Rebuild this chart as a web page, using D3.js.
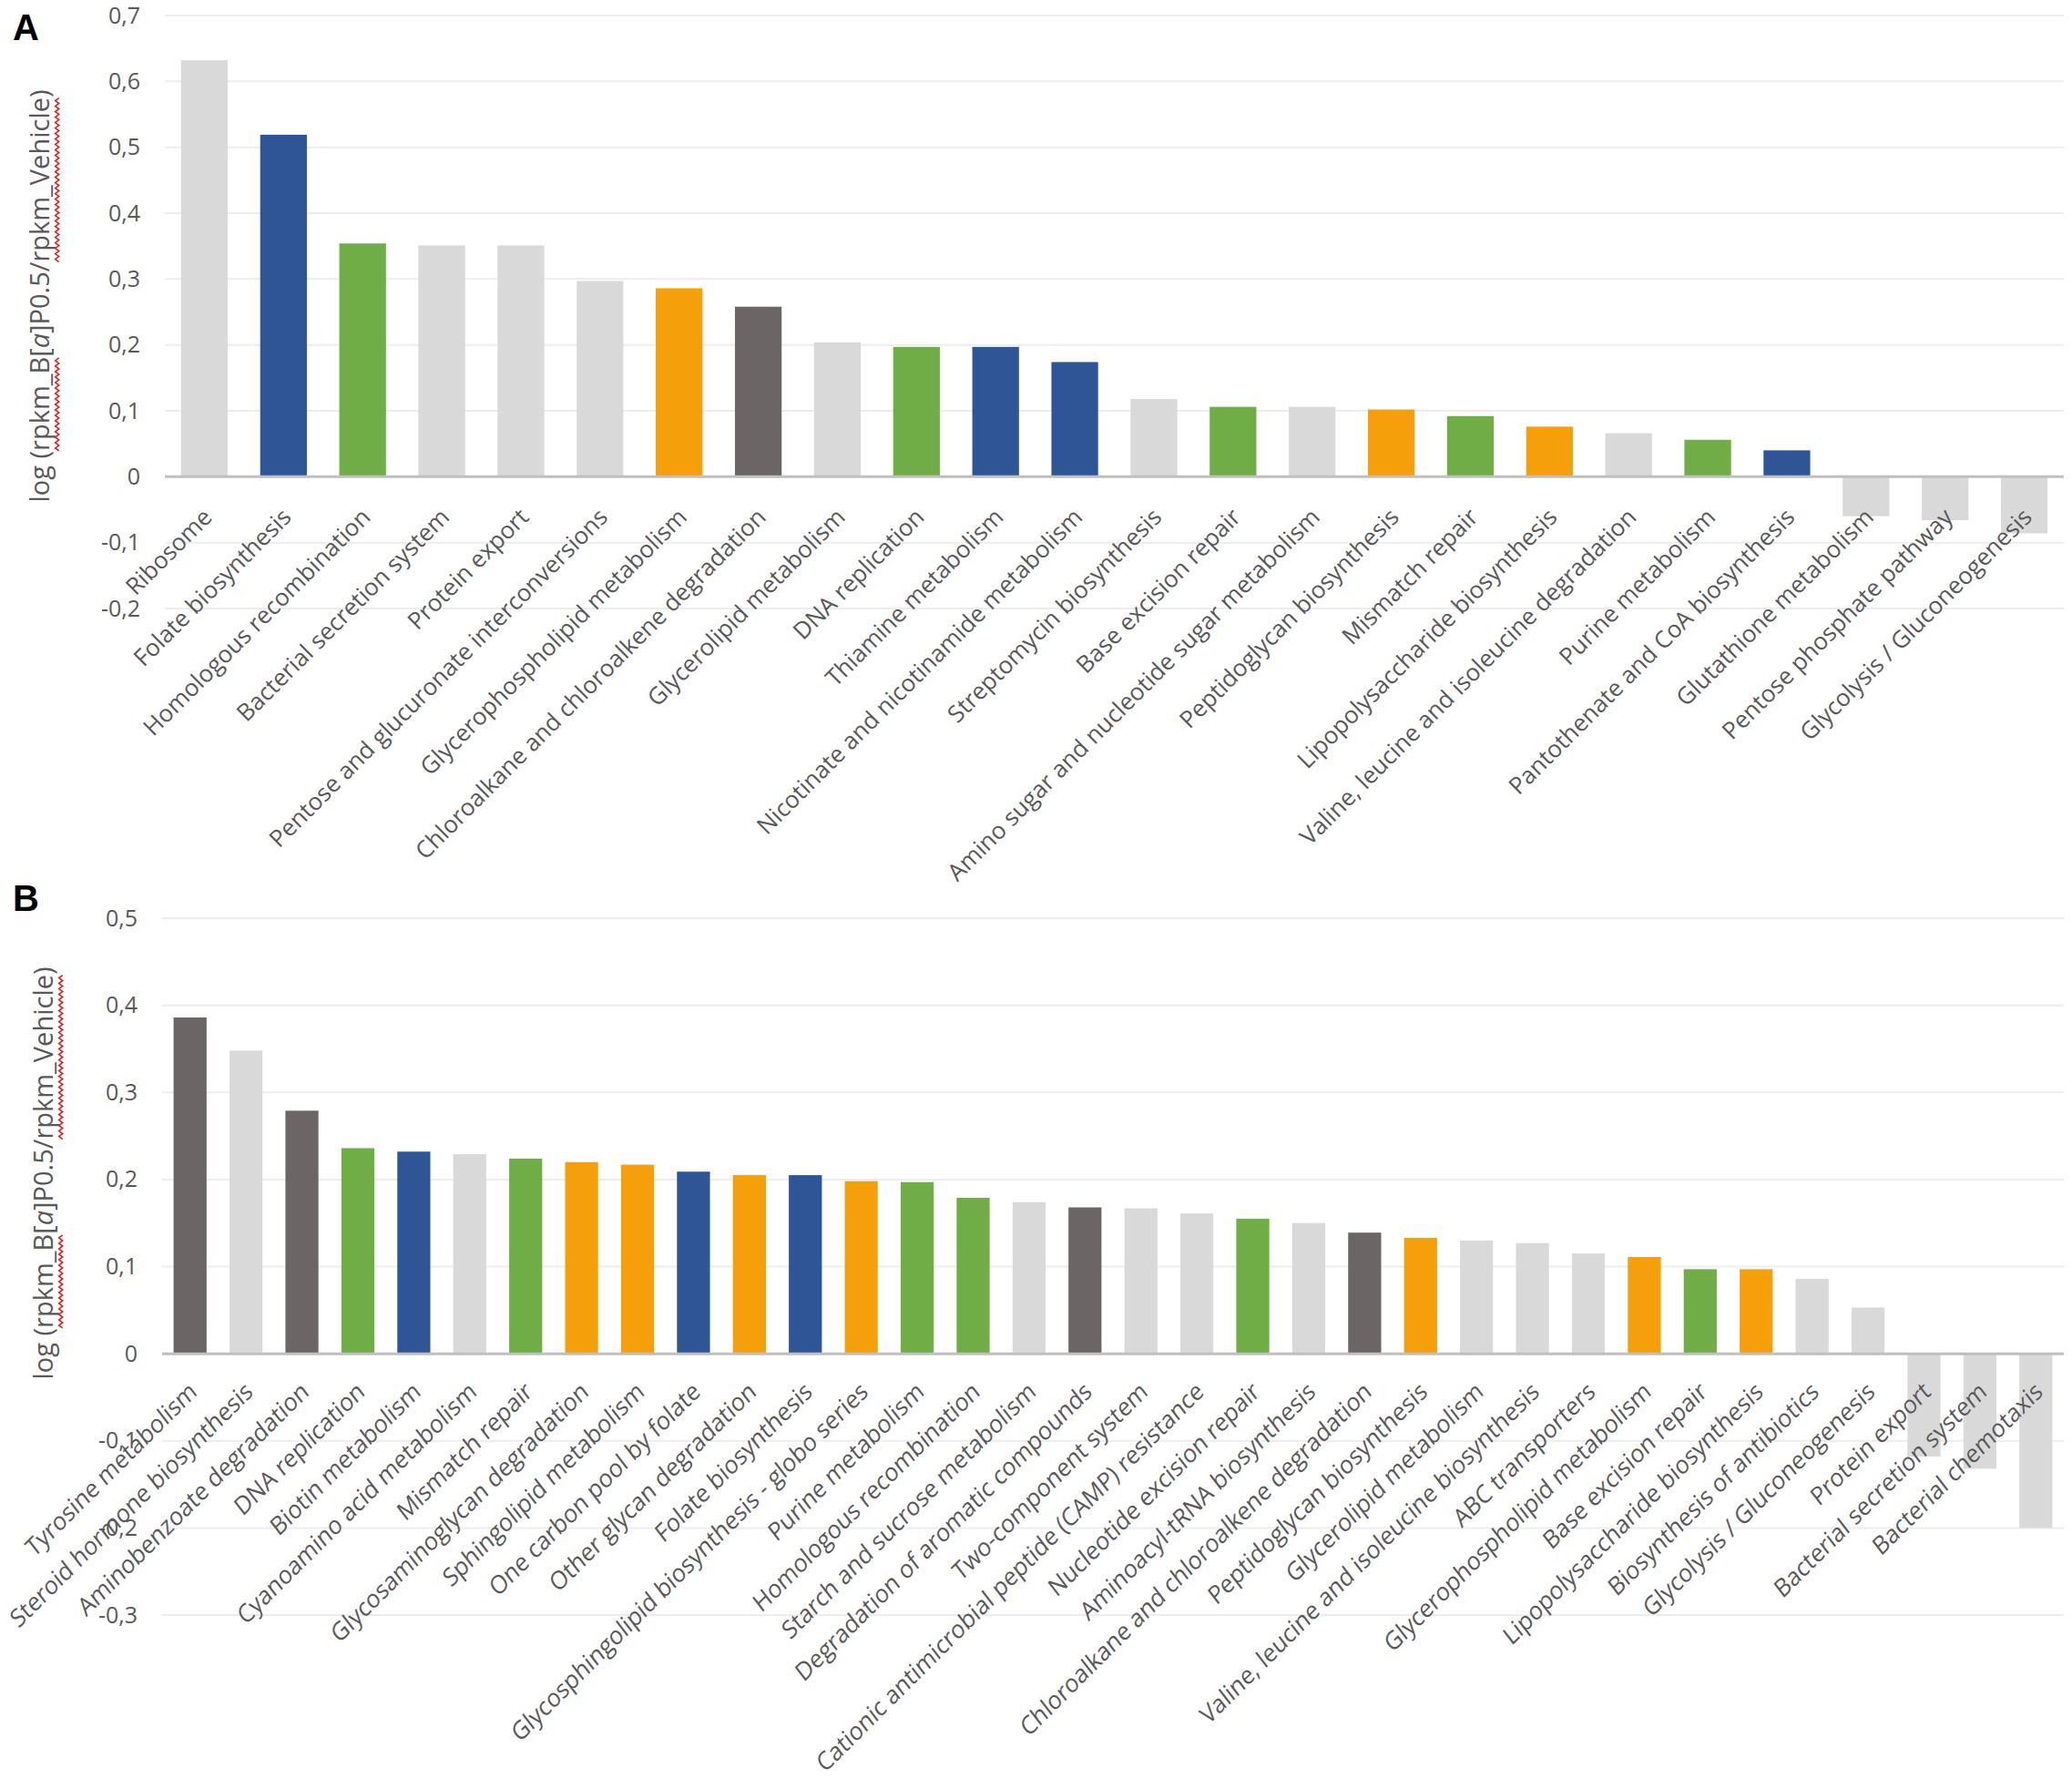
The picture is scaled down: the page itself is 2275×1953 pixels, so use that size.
<!DOCTYPE html>
<html><head><meta charset="utf-8">
<script src="https://cdn.jsdelivr.net/npm/d3@7"></script>
<style>
html,body{margin:0;padding:0;background:#fff;}
text{font-family:"Open Sans",sans-serif;fill:#595959;}
</style></head>
<body>
<svg id="chart" width="2275" height="1953"></svg>
<script>
// ---------- Panel A data ----------
const categoriesA = ["Ribosome","Folate biosynthesis","Homologous recombination","Bacterial secretion system","Protein export","Pentose and glucuronate interconversions","Glycerophospholipid metabolism","Chloroalkane and chloroalkene degradation","Glycerolipid metabolism","DNA replication","Thiamine metabolism","Nicotinate and nicotinamide metabolism","Streptomycin biosynthesis","Base excision repair","Amino sugar and nucleotide sugar metabolism","Peptidoglycan biosynthesis","Mismatch repair","Lipopolysaccharide biosynthesis","Valine, leucine and isoleucine degradation","Purine metabolism","Pantothenate and CoA biosynthesis","Glutathione metabolism","Pentose phosphate pathway","Glycolysis / Gluconeogenesis"];
const valuesA = [0.632,0.519,0.354,0.351,0.351,0.297,0.286,0.258,0.204,0.197,0.197,0.174,0.118,0.106,0.106,0.102,0.092,0.076,0.066,0.056,0.040,-0.060,-0.066,-0.086];
const groupsA = ["other","blue","green","other","other","other","orange","dark","other","green","blue","blue","other","green","other","orange","green","orange","other","green","blue","other","other","other"];
const ticksA = [-0.2,-0.1,0,0.1,0.2,0.3,0.4,0.5,0.6,0.7];

// ---------- Panel B data ----------
const categoriesB = ["Tyrosine metabolism","Steroid hormone biosynthesis","Aminobenzoate degradation","DNA replication","Biotin metabolism","Cyanoamino acid metabolism","Mismatch repair","Glycosaminoglycan degradation","Sphingolipid metabolism","One carbon pool by folate","Other glycan degradation","Folate biosynthesis","Glycosphingolipid biosynthesis - globo series","Purine metabolism","Homologous recombination","Starch and sucrose metabolism","Degradation of aromatic compounds","Two-component system","Cationic antimicrobial peptide (CAMP) resistance","Nucleotide excision repair","Aminoacyl-tRNA biosynthesis","Chloroalkane and chloroalkene degradation","Peptidoglycan biosynthesis","Glycerolipid metabolism","Valine, leucine and isoleucine biosynthesis","ABC transporters","Glycerophospholipid metabolism","Base excision repair","Lipopolysaccharide biosynthesis","Biosynthesis of antibiotics","Glycolysis / Gluconeogenesis","Protein export","Bacterial secretion system","Bacterial chemotaxis"];
const valuesB = [0.386,0.348,0.279,0.236,0.232,0.229,0.224,0.220,0.217,0.209,0.205,0.205,0.198,0.197,0.179,0.174,0.168,0.167,0.161,0.155,0.150,0.139,0.133,0.130,0.127,0.115,0.111,0.097,0.097,0.086,0.053,-0.118,-0.132,-0.200];
const groupsB = ["dark","other","dark","green","blue","other","green","orange","orange","blue","orange","blue","orange","green","green","other","dark","other","other","green","other","dark","orange","other","other","other","orange","green","orange","other","other","other","other","other"];
const ticksB = [-0.3,-0.2,-0.1,0,0.1,0.2,0.3,0.4,0.5];

const groupNames = ["other","blue","green","orange","dark"];
const groupColors = ["#D9D9D9","#2F5597","#70AD47","#F59F0B","#6B6565"];

const yTitle = ["log (rpkm_B[", "a", "]P0.5/rpkm_Vehicle)"];

const svg = d3.select("#chart");
const color = d3.scaleOrdinal().domain(groupNames).range(groupColors);
const fmt = v => v === 0 ? "0" : d3.format(".1f")(v).replace(".", ",").replace("\u2212","-");

function panel(opt) {
  const g = svg.append("g");
  const x = d3.scaleBand().domain(opt.cats).range([opt.x0, opt.x1]).paddingInner(0.41).paddingOuter(0.205);
  const y = d3.scaleLinear().domain(opt.domain).range(opt.range);

  // gridlines
  g.append("g").selectAll("line").data(opt.ticks.filter(t => t !== 0)).join("line")
    .attr("x1", opt.x0).attr("x2", opt.x1)
    .attr("y1", d => y(d)).attr("y2", d => y(d))
    .attr("stroke", "#EDEDED").attr("stroke-width", 2);

  // y tick labels via axis
  const yAxis = g.append("g").attr("transform", `translate(${opt.x0},0)`)
    .call(d3.axisLeft(y).tickValues(opt.ticks).tickFormat(fmt).tickSize(0).tickPadding(opt.tickPad));
  yAxis.select(".domain").remove();
  yAxis.selectAll("text").attr("font-size", opt.tickFont).attr("fill", "#595959")
    .style("font-family", '"Open Sans",sans-serif');

  // bars
  g.append("g").selectAll("rect").data(opt.cats).join("rect")
    .attr("x", d => x(d))
    .attr("width", x.bandwidth())
    .attr("y", (d, i) => y(Math.max(0, opt.vals[i])))
    .attr("height", (d, i) => Math.abs(y(opt.vals[i]) - y(0)))
    .attr("fill", (d, i) => color(opt.groups[i]));

  // zero line
  g.append("line").attr("x1", opt.x0).attr("x2", opt.x1).attr("y1", y(0)).attr("y2", y(0))
    .attr("stroke", "#BFBFBF").attr("stroke-width", 3);

  // category labels
  g.append("g").selectAll("text").data(opt.cats).join("text")
    .attr("transform", d => `translate(${x(d) + x.bandwidth()/2 + opt.lblDx},${y(0) + opt.lblDy}) scale(${opt.sx},1) rotate(${opt.rot})`)
    .attr("text-anchor", "end")
    .attr("font-size", opt.lblFont)
    .text(d => d);

  // y title
  const tg = g.append("g").attr("transform", `translate(${opt.titleX},${opt.titleY}) rotate(-90)`);
  const t = tg.append("text").attr("text-anchor", "middle").attr("font-size", opt.titleFont);
  yTitle.forEach((s, i) => t.append("tspan").text(s).attr("font-style", i === 1 ? "italic" : null));
  // spell-check squiggles under "rpkm_B" and "rpkm_Vehicle"
  const full = yTitle.join("");
  const marks = [[full.indexOf("rpkm_B"), 6], [full.lastIndexOf("rpkm_Vehicle"), 12]];
  const node = t.node();
  marks.forEach(([s, n]) => {
    const a = node.getStartPositionOfChar(s).x, b = node.getEndPositionOfChar(s + n - 1).x;
    const yy = opt.titleFont * 0.3;
    const pts = [];
    for (let px = a, k = 0; px <= b; px += 3, k++) pts.push([px, yy + (k % 2 ? -2 : 2)]);
    tg.append("path").attr("d", d3.line()(pts)).attr("fill", "none").attr("stroke", "#E02020").attr("stroke-width", 1.6);
  });

  // panel letter
  svg.append("text").attr("x", opt.letterX).attr("y", opt.letterY).text(opt.letter)
    .attr("font-size", 40).attr("font-weight", "bold")
    .style("font-family", '"Liberation Sans",Arial,sans-serif').style("fill", "#000");
}

panel({cats: categoriesA, vals: valuesA, groups: groupsA, ticks: ticksA,
  x0: 181, x1: 2266, domain: [-0.2, 0.7], range: [668, 17],
  tickPad: 27, tickFont: 25, lblFont: 26, lblDx: 10, lblDy: 46, rot: -45, sx: 1,
  titleX: 54, titleY: 325, titleFont: 29, letter: "A", letterX: 14, letterY: 44});

panel({cats: categoriesB, vals: valuesB, groups: groupsB, ticks: ticksB,
  x0: 178, x1: 2266, domain: [-0.3, 0.5], range: [1773, 1008],
  tickPad: 27, tickFont: 25, lblFont: 28, lblDx: 9, lblDy: 44, rot: -41.3, sx: 0.88,
  titleX: 58, titleY: 1288, titleFont: 29, letter: "B", letterX: 14, letterY: 1000});
</script>
</body></html>
